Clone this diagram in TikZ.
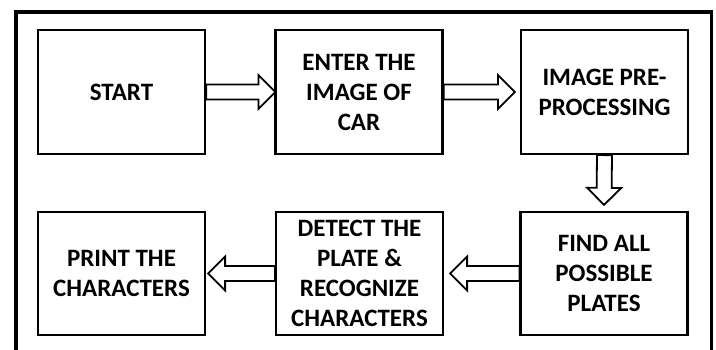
\documentclass[tikz,border=0pt]{standalone}
\usepackage{fontspec}
\setmainfont{Carlito}
\usetikzlibrary{calc}
\newcommand\blockarr[2]{%
  \coordinate (hb) at ($(#2)!17pt!(#1)$);
  \draw[blockarrow] ($(#1)!7.5pt!90:(#2)$) -- ($(hb)!7.5pt!90:(#2)$) -- ($(hb)!17pt!90:(#2)$) -- (#2)
    -- ($(hb)!17pt!-90:(#2)$) -- ($(hb)!7.5pt!-90:(#2)$) -- ($(#1)!7.5pt!-90:(#2)$) -- cycle;}
\begin{document}
\begin{tikzpicture}[x=1pt,y=-1pt,
  stepbox/.style={draw=black, line width=2.2pt, fill=white, minimum width=167pt, minimum height=124pt,
    align=center, font=\fontsize{25}{30}\selectfont\bfseries, inner sep=0pt},
  blockarrow/.style={draw=black, line width=1.8pt, fill=white, line join=miter},
  frame/.style={draw=black, line width=3.6pt}]
\useasboundingbox (0,0) rectangle (716,350);
\draw[frame] (16,352) -- (16,12) -- (711.5,12) -- (711.5,352);
\node[stepbox] (start) at (121.5,92) {START};
\node[stepbox] (enter) at (359,92) {ENTER THE\\IMAGE OF\\CAR};
\node[stepbox] (pre) at (604.5,92) {IMAGE PRE-\\PROCESSING};
\node[stepbox, minimum height=123pt] (find) at (604,273.5) {FIND ALL\\POSSIBLE\\PLATES};
\node[stepbox, minimum height=123pt] (detect) at (359.5,273.5) {DETECT THE\\PLATE \&\\RECOGNIZE\\CHARACTERS};
\node[stepbox, minimum height=123pt] (print) at (121.5,273.5) {PRINT THE\\CHARACTERS};
\coordinate (t1) at ($(enter.west)+(1,0)$);
\coordinate (t2) at ($(pre.west)+(-5,0)$);
\coordinate (t3) at ($(find.north)+(0,-6)$);
\coordinate (t4) at ($(detect.east)+(6,0)$);
\coordinate (t5) at ($(print.east)+(2,0)$);
\blockarr{start.east}{t1}
\blockarr{enter.east}{t2}
\blockarr{pre.south}{t3}
\blockarr{find.west}{t4}
\blockarr{detect.west}{t5}
\node[stepbox] at (start) {START};
\node[stepbox] at (enter) {ENTER THE\\IMAGE OF\\CAR};
\node[stepbox] at (pre) {IMAGE PRE-\\PROCESSING};
\node[stepbox, minimum height=123pt] at (find) {FIND ALL\\POSSIBLE\\PLATES};
\node[stepbox, minimum height=123pt] at (detect) {DETECT THE\\PLATE \&\\RECOGNIZE\\CHARACTERS};
\node[stepbox, minimum height=123pt] at (print) {PRINT THE\\CHARACTERS};
\end{tikzpicture}
\end{document}
